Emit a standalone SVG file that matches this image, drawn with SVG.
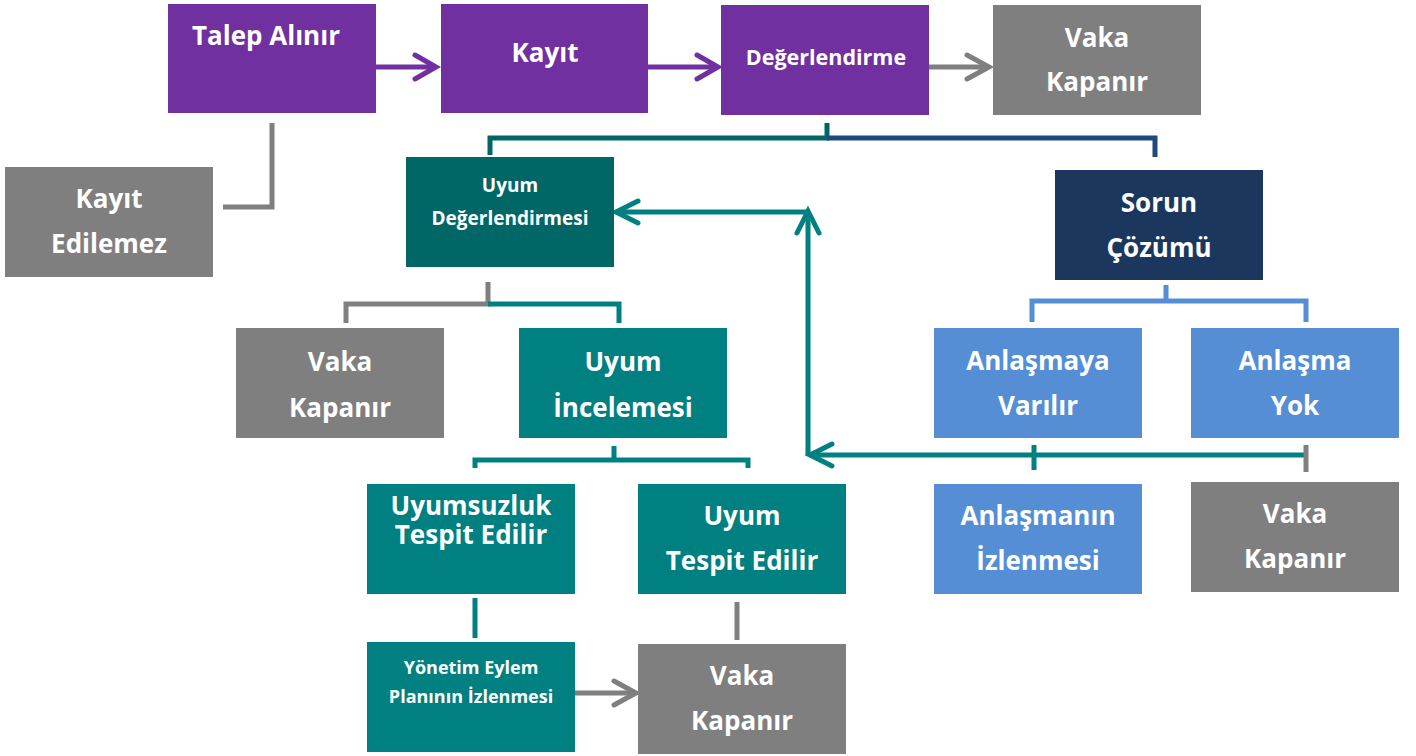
<svg xmlns="http://www.w3.org/2000/svg" width="1416" height="756" viewBox="0 0 1416 756">
<defs>
<style>
.t{font-family:"Open Sans","Liberation Sans",sans-serif;font-weight:bold;fill:#fff;text-anchor:middle}
.l{font-size:26px}
.m{font-size:21.5px}
.s{font-size:19px}
.x{font-size:18px}
.c{fill:none;stroke-width:5}
.pu{fill:#7030a0}.gr{fill:#7f7f7f}.dt{fill:#006666}.tl{fill:#008080}.nv{fill:#1b375e}.bl{fill:#558ed5}
</style>
<marker id="aP" markerUnits="userSpaceOnUse" markerWidth="40" markerHeight="40" viewBox="-30 -20 40 40" refX="0" refY="0" orient="auto"><path d="M-21,-12 L0,0 L-21,12" fill="none" stroke="#7030a0" stroke-width="5" stroke-linecap="round"/></marker>
<marker id="aG" markerUnits="userSpaceOnUse" markerWidth="40" markerHeight="40" viewBox="-30 -20 40 40" refX="0" refY="0" orient="auto"><path d="M-22,-12 L0,0 L-22,12" fill="none" stroke="#7f7f7f" stroke-width="5" stroke-linecap="round"/></marker>
<marker id="aT" markerUnits="userSpaceOnUse" markerWidth="40" markerHeight="40" viewBox="-30 -20 40 40" refX="0" refY="0" orient="auto"><path d="M-22,-11 L0,0 L-22,11" fill="none" stroke="#008080" stroke-width="5" stroke-linecap="round"/></marker>
</defs>
<g id="connectors">
<path class="c" stroke="#7030a0" d="M376,67 H436" marker-end="url(#aP)"/>
<path class="c" stroke="#7030a0" d="M648,67 H718" marker-end="url(#aP)"/>
<path class="c" stroke="#7f7f7f" d="M929,67 H989" marker-end="url(#aG)"/>
<path class="c" stroke="#7f7f7f" stroke-width="6" d="M272,123 V207 H223"/>
<path class="c" stroke="#006666" d="M827,123 V138 H490 V155"/>
<path class="c" stroke="#1f497d" d="M827,138 H1155 V157"/>
<path class="c" stroke="#7f7f7f" d="M488,282 V304 H346 V323"/>
<path class="c" stroke="#008080" d="M488,304 H619 V323"/>
<path class="c" stroke="#008080" d="M614,446 V460 H475 V468 M614,460 H748 V468"/>
<path class="c" stroke="#008080" d="M475,598 V638"/>
<path class="c" stroke="#7f7f7f" d="M737,602 V640"/>
<path class="c" stroke="#7f7f7f" d="M575,693 H636" marker-end="url(#aG)"/>
<path class="c" stroke="#558ed5" d="M1166,285 V301 H1032 V322 M1166,301 H1306 V322"/>
<path class="c" stroke="#008080" d="M1306,455 H810" marker-end="url(#aT)"/>
<path class="c" stroke="#008080" d="M808,455 V211" marker-end="url(#aT)"/>
<path class="c" stroke="#008080" d="M808,212 H616" marker-end="url(#aT)"/>
<path class="c" stroke="#008080" d="M1034,445 V470"/>
<path class="c" stroke="#7f7f7f" d="M1306,445 V472"/>
</g>
<g id="n1"><rect class="pu" x="168" y="4" width="208" height="109"/><text class="t l" x="266" y="45">Talep Alınır</text></g>
<g id="n2"><rect class="pu" x="441" y="4" width="207" height="109"/><text class="t l" x="545" y="62">Kayıt</text></g>
<g id="n3"><rect class="pu" x="721" y="5" width="208" height="110"/><text class="t m" x="826" y="65">Değerlendirme</text></g>
<g id="n4"><rect class="gr" x="993" y="5" width="208" height="110"/><text class="t l" x="1097" y="47">Vaka</text><text class="t l" x="1097" y="91">Kapanır</text></g>
<g id="n5"><rect class="gr" x="5" y="167" width="208" height="110"/><text class="t l" x="109" y="208">Kayıt</text><text class="t l" x="109" y="253">Edilemez</text></g>
<g id="n6"><rect class="dt" x="406" y="157" width="208" height="110"/><text class="t s" x="510" y="192">Uyum</text><text class="t s" x="510" y="225">Değerlendirmesi</text></g>
<g id="n7"><rect class="nv" x="1055" y="170" width="208" height="110"/><text class="t l" x="1159" y="212">Sorun</text><text class="t l" x="1159" y="257">Çözümü</text></g>
<g id="n8"><rect class="gr" x="236" y="328" width="208" height="110"/><text class="t l" x="340" y="371">Vaka</text><text class="t l" x="340" y="417">Kapanır</text></g>
<g id="n9"><rect class="tl" x="519" y="328" width="208" height="110"/><text class="t l" x="623" y="371">Uyum</text><text class="t l" x="623" y="417">İncelemesi</text></g>
<g id="n10"><rect class="bl" x="934" y="328" width="208" height="110"/><text class="t l" x="1038" y="370">Anlaşmaya</text><text class="t l" x="1038" y="415">Varılır</text></g>
<g id="n11"><rect class="bl" x="1191" y="328" width="208" height="110"/><text class="t l" x="1295" y="370">Anlaşma</text><text class="t l" x="1295" y="415">Yok</text></g>
<g id="n12"><rect class="tl" x="367" y="484" width="208" height="110"/><text class="t l" x="471" y="515">Uyumsuzluk</text><text class="t l" x="471" y="544">Tespit Edilir</text></g>
<g id="n13"><rect class="tl" x="638" y="484" width="208" height="110"/><text class="t l" x="742" y="525">Uyum</text><text class="t l" x="742" y="570">Tespit Edilir</text></g>
<g id="n14"><rect class="bl" x="934" y="484" width="208" height="110"/><text class="t l" x="1038" y="525">Anlaşmanın</text><text class="t l" x="1038" y="570">İzlenmesi</text></g>
<g id="n15"><rect class="gr" x="1191" y="482" width="208" height="110"/><text class="t l" x="1295" y="523">Vaka</text><text class="t l" x="1295" y="568">Kapanır</text></g>
<g id="n16"><rect class="tl" x="367" y="642" width="208" height="110"/><text class="t x" x="471" y="674">Yönetim Eylem</text><text class="t x" x="471" y="703">Planının İzlenmesi</text></g>
<g id="n17"><rect class="gr" x="638" y="644" width="208" height="110"/><text class="t l" x="742" y="685">Vaka</text><text class="t l" x="742" y="730">Kapanır</text></g>
</svg>
